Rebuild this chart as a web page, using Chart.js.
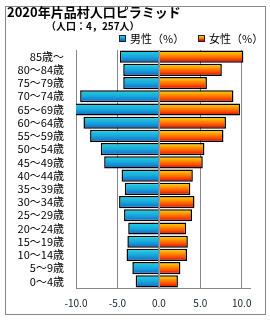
<!DOCTYPE html>
<html>
<head>
<meta charset="utf-8">
<script src="https://cdn.jsdelivr.net/npm/chart.js@4/dist/chart.umd.min.js"></script>
<style>
  body { margin: 0; background: #fff; font-family: "Noto Sans CJK JP", sans-serif; }
  .wrap { position: relative; width: 270px; height: 320px; }
  .frame { position: absolute; left: 5px; top: 6px; width: 259px; height: 307px; border: 1px solid #888; }
  canvas { position: absolute; left: 0; top: 0; }
  .title { position: absolute; left: 7px; top: 4px; font-size: 13px; font-weight: bold; color: #000; white-space: nowrap; line-height: 16px; }
  .sub { position: absolute; left: 46px; top: 19px; font-size: 10px; font-weight: bold; color: #000; white-space: nowrap; line-height: 14px; }
  .legend { position: absolute; top: 31px; font-size: 11px; color: #000; white-space: nowrap; line-height: 14px; }
  .legend i { display: inline-block; width: 5px; height: 5px; border: 1px solid #222; margin-right: 4px; vertical-align: 1px; }
</style>
</head>
<body>
<div class="wrap">
  <div class="frame"></div>
  <canvas id="chart" width="270" height="320"></canvas>
  <div class="title">2020年片品村人口ピラミッド</div>
  <div class="sub">（人口：4，257人）</div>
  <div class="legend" style="left:119px"><i style="background:linear-gradient(#22d0e0,#1060c8)"></i>男性（%）</div>
  <div class="legend" style="left:198px"><i style="background:linear-gradient(#ffd800,#ff7000,#d80000)"></i>女性（%）</div>
</div>
<script>
const ageLabels = ['85歳～', '80～84歳', '75～79歳', '70～74歳', '65～69歳', '60～64歳', '55～59歳',
  '50～54歳', '45～49歳', '40～44歳', '35～39歳', '30～34歳', '25～29歳', '20～24歳', '15～19歳',
  '10～14歳', '5～9歳', '0～4歳'];
// male shown to the left, so negative
const maleValues = [-4.7, -4.3, -4.3, -9.5, -10.2, -9.1, -8.3, -7.0, -6.6, -4.5, -4.1, -4.8, -4.2, -3.7, -3.8, -3.9, -3.2, -2.8];
const femaleValues = [10.2, 7.6, 5.8, 9.0, 9.8, 8.1, 7.8, 5.5, 5.3, 4.1, 3.8, 4.3, 4.0, 3.3, 3.5, 3.4, 2.6, 2.3];
const xTicks = [-10, -5, 0, 5, 10];

const BAR_PCT = 0.92;

function barGradient(stops) {
    return (c) => {
        const chart = c.chart;
        const y = chart.scales.y;
        if (!chart.chartArea || !y) return stops[0];
        const mid = y.getPixelForValue(c.dataIndex);
        const h = (y.height / ageLabels.length) * BAR_PCT;
        const g = chart.ctx.createLinearGradient(0, mid - h / 2, 0, mid + h / 2);
        stops.forEach((col, i) => g.addColorStop(i / (stops.length - 1), col));
        return g;
    };
}

// thin line at zero over the bars
const zeroLine = {
    id: 'zeroLine',
    afterDatasetsDraw(chart) {
        const {ctx, chartArea, scales} = chart;
        const x = Math.round(scales.x.getPixelForValue(0)) + 0.5;
        ctx.save();
        ctx.strokeStyle = '#8c9aa6';
        ctx.lineWidth = 1;
        ctx.beginPath();
        ctx.moveTo(x, chartArea.top);
        ctx.lineTo(x, chartArea.bottom);
        ctx.stroke();
        ctx.restore();
    }
};

new Chart(document.getElementById('chart'), {
    type: 'bar',
    data: {
        labels: ageLabels,
        datasets: [
            {
                label: '男性（%）',
                data: maleValues,
                backgroundColor: barGradient(['#24d4e0', '#18a8dc', '#1064c8']),
                borderColor: '#000',
                borderWidth: 1.5,
                barPercentage: BAR_PCT,
                categoryPercentage: 1
            },
            {
                label: '女性（%）',
                data: femaleValues,
                backgroundColor: barGradient(['#ffe000', '#ff9a00', '#ff5000', '#d40000']),
                borderColor: '#000',
                borderWidth: 1.5,
                barPercentage: BAR_PCT,
                categoryPercentage: 1
            }
        ]
    },
    options: {
        indexAxis: 'y',
        responsive: false,
        animation: false,
        layout: { padding: { top: 50, right: 20, left: 0, bottom: 0 } },
        plugins: {
            legend: { display: false },
            tooltip: { enabled: false }
        },
        scales: {
            x: {
                stacked: true,
                min: -10,
                max: 11,
                afterBuildTicks: (s) => { s.ticks = xTicks.map(v => ({ value: v })); },
                afterFit: (s) => { s.height = 32; },
                ticks: {
                    includeBounds: false,
                    padding: 9,
                    color: '#10202c',
                    font: { family: '"Noto Sans CJK JP"', size: 10 },
                    callback: (v) => Number(v).toFixed(1)
                },
                grid: { color: '#888', lineWidth: 1, drawTicks: false },
                border: { color: '#888' }
            },
            y: {
                stacked: true,
                afterFit: (s) => { s.width = 76; },
                ticks: {
                    autoSkip: false,
                    padding: 12,
                    color: '#000',
                    font: { family: '"Noto Sans CJK JP"', size: 11 }
                },
                grid: { display: false, drawTicks: false },
                border: { color: '#888' }
            }
        }
    },
    plugins: [zeroLine]
});
</script>
</body>
</html>
